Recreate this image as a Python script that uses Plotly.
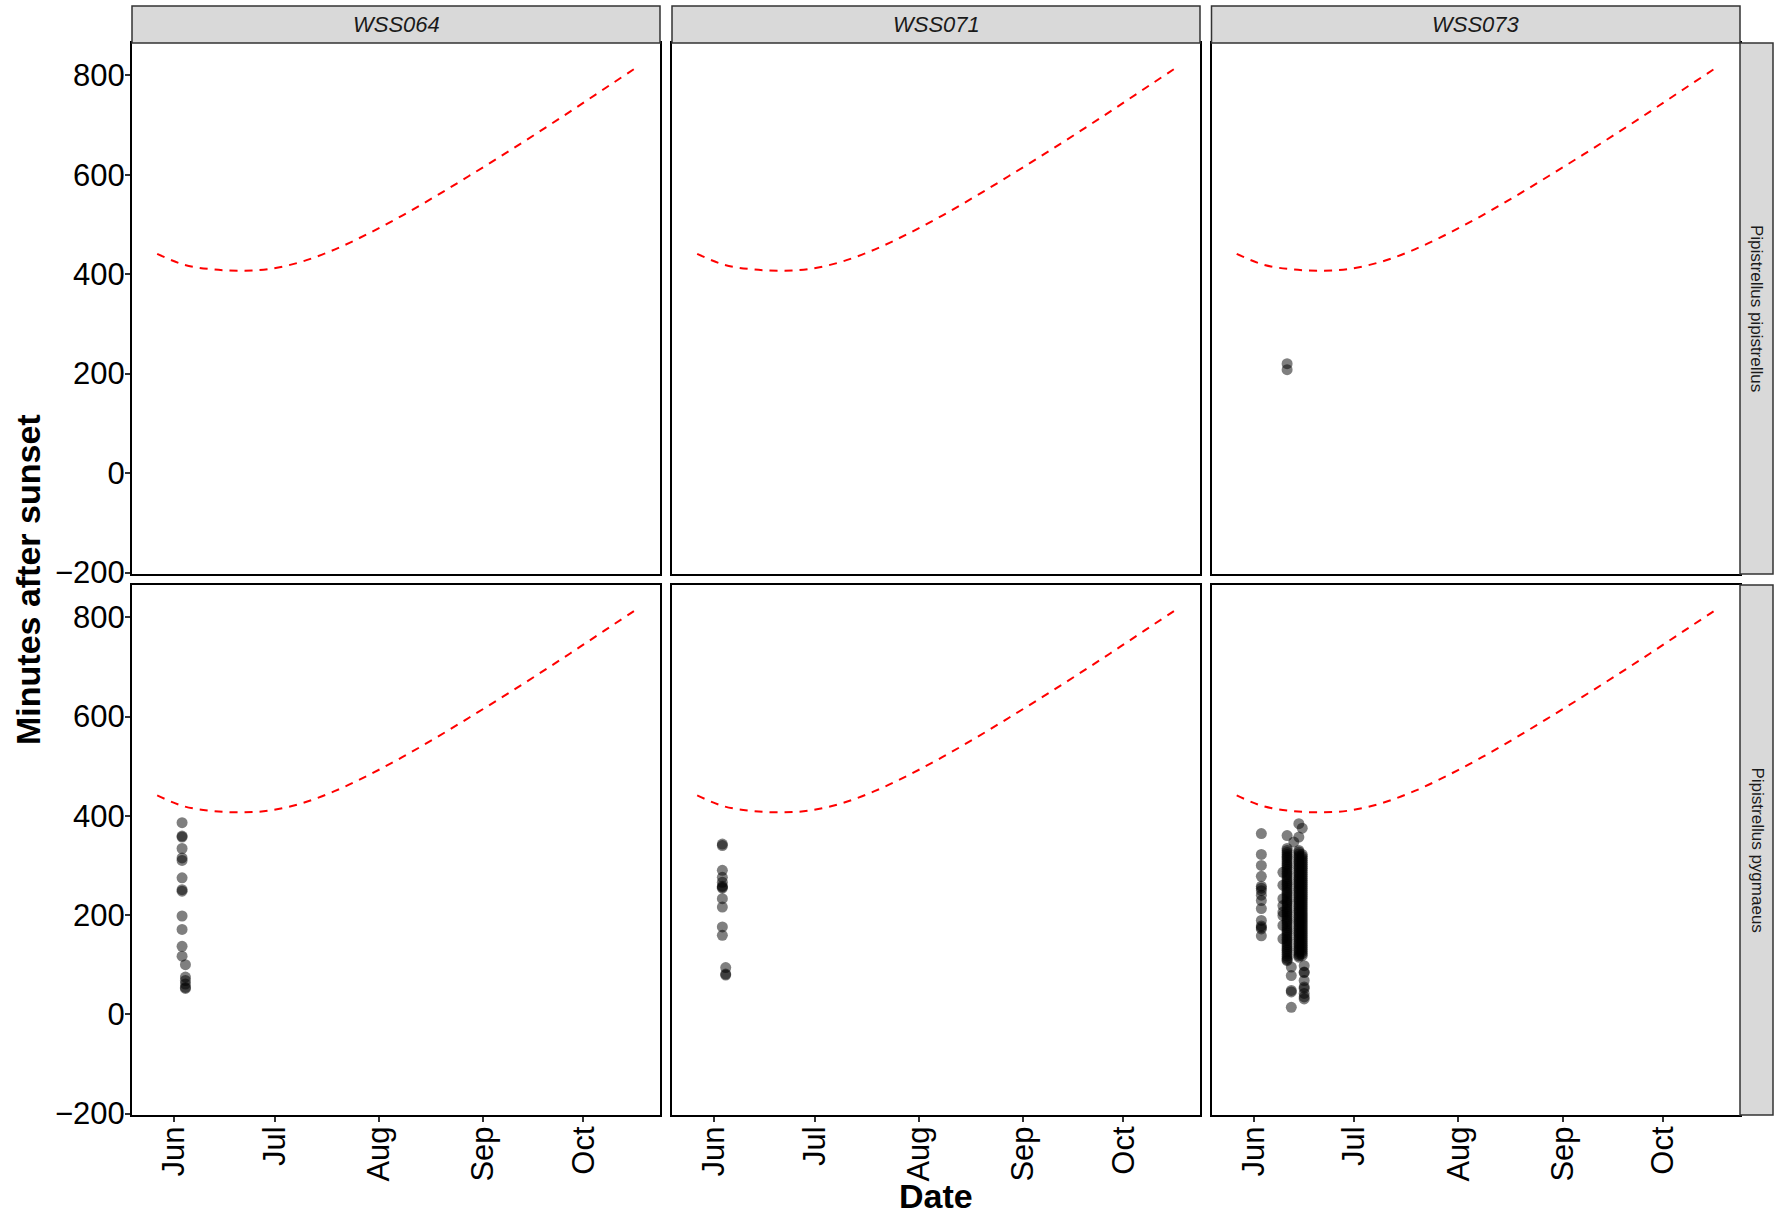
import plotly.graph_objects as go

# the captured page is squeezed vertically (1234 -> 1218), so lay out on a 1234-high page
REF_W, REF_H = 1782, 1218
W, H = 1782, 1234
S = H / REF_H

sites = ["WSS064", "WSS071", "WSS073"]
species = ["Pipistrellus pipistrellus", "Pipistrellus pygmaeus"]

# red dashed reference curve (minutes after sunset until sunrise)
night_dates = ["2021-05-27", "2021-06-04", "2021-06-12", "2021-06-20", "2021-06-29",
               "2021-07-09", "2021-07-19", "2021-07-29", "2021-08-08", "2021-08-18",
               "2021-08-28", "2021-09-07", "2021-09-17", "2021-09-27", "2021-10-07",
               "2021-10-17 12:00"]
night_minutes = [441, 419, 410, 407, 410, 425, 450, 482, 518, 557,
                 598, 640, 683, 727, 772, 819]

# ---- observations (date -> minutes after sunset) ----
# WSS073, Pipistrellus pipistrellus
p073_pip = {"2021-06-11": [220, 208]}

# WSS064, Pipistrellus pygmaeus
p064_pyg = {
    "2021-06-03 10:00": [386, 359, 357, 334, 315, 310, 275, 251, 248, 198, 171, 137, 117],
    "2021-06-04 10:00": [100, 75, 68, 61, 54, 52],
}
# WSS071, Pipistrellus pygmaeus
p071_pyg = {
    "2021-06-03 12:00": [343, 340, 290, 276, 266, 258, 256, 254, 233, 216, 176, 159],
    "2021-06-04 12:00": [94, 81, 79],
}
# WSS073, Pipistrellus pygmaeus
p073_pyg = {
    "2021-06-03 08:00": [364, 322, 300, 278, 258, 254, 249, 240, 229, 213, 189, 178, 175, 172, 158],
    "2021-06-09 18:00": [286, 260, 233, 219, 206, 199, 179, 152],
    "2021-06-11": [360, 334, 330, 326, 322, 318, 315, 311, 307, 303, 300, 296, 292, 288, 284,
                   281, 277, 273, 269, 265, 262, 258, 254, 250, 246, 243, 239, 235, 231, 227,
                   224, 220, 216, 212, 208, 205, 201, 197, 193, 189, 186, 182, 178, 174, 170,
                   167, 163, 159, 155, 151, 148, 144, 140, 136, 132, 129, 125, 121, 117, 113,
                   110, 108],
    "2021-06-12 06:00": [95, 78, 48, 45, 14],
    "2021-06-13": [347],
    "2021-06-14 12:00": [384, 357, 330, 327, 323, 319, 316, 312, 308, 305, 301, 297, 294, 290, 286,
                         283, 279, 275, 272, 268, 264, 261, 257, 253, 250, 246, 242, 239, 235, 231,
                         228, 224, 220, 217, 213, 209, 206, 202, 198, 195, 191, 187, 184, 180, 176,
                         173, 169, 165, 162, 158, 154, 151, 147, 143, 140, 136, 132, 129, 125, 121,
                         118, 115],
    "2021-06-15 12:00": [375, 322, 318, 314, 310, 306, 302, 298, 294, 290, 286, 282, 278, 274, 270,
                         266, 262, 258, 254, 250, 246, 242, 238, 234, 230, 226, 222, 218, 214, 210,
                         206, 202, 198, 194, 190, 186, 182, 178, 174, 170, 166, 162, 158, 154, 150,
                         146, 142, 138, 134, 130, 126, 122, 118],
    "2021-06-16 02:00": [98, 85, 84, 68, 55, 52, 42, 35, 31],
}

panel_data = {
    (0, 0): {}, (0, 1): {}, (0, 2): p073_pip,
    (1, 0): p064_pyg, (1, 1): p071_pyg, (1, 2): p073_pyg,
}

month_ticks = ["2021-06-01", "2021-07-01", "2021-08-01", "2021-09-01", "2021-10-01"]
month_labels = ["Jun", "Jul", "Aug", "Sep", "Oct"]
y_ticks = [-200, 0, 200, 400, 600, 800]

x_range = ["2021-05-19 12:00", "2021-10-23 19:00"]
y_range = [-203, 865]

# pixel layout (reference picture coordinates)
col_px = [(132, 660), (672, 1200), (1211.5, 1740)]
row_px = [(43, 574), (585, 1115)]
strip_top = 6
rstrip = (1740, 1773)


def px(x):
    return x / W


def py(y):
    return 1 - (y * S) / H


FONT = "Liberation Sans, Arial, sans-serif"

fig = go.Figure()
layout = {}

for r in range(2):
    for c in range(3):
        k = r * 3 + c + 1
        xa = "x" if k == 1 else f"x{k}"
        ya = "y" if k == 1 else f"y{k}"
        fig.add_trace(go.Scatter(
            x=night_dates, y=night_minutes, mode="lines",
            line=dict(color="#FF0000", width=2, dash="8px,7px", shape="spline"),
            xaxis=xa, yaxis=ya, hoverinfo="skip", showlegend=False))
        d = panel_data[(r, c)]
        xs, ys = [], []
        for dt, vals in d.items():
            for v in vals:
                xs.append(dt)
                ys.append(v)
        if xs:
            fig.add_trace(go.Scatter(
                x=xs, y=ys, mode="markers",
                marker=dict(color="rgba(0,0,0,0.5)", size=11, line=dict(width=0)),
                xaxis=xa, yaxis=ya, showlegend=False))
        x0, x1 = col_px[c]
        t, b = row_px[r]
        xkey = "xaxis" if k == 1 else f"xaxis{k}"
        ykey = "yaxis" if k == 1 else f"yaxis{k}"
        layout[xkey] = dict(
            domain=[px(x0), px(x1)], anchor=ya, type="date", range=x_range,
            tickmode="array", tickvals=month_ticks, ticktext=month_labels,
            tickangle=-90, showgrid=False, zeroline=False,
            showline=True, mirror=True, linecolor="black", linewidth=2,
            ticks="outside" if r == 1 else "", ticklen=5, tickwidth=1.5,
            tickcolor="#333333", showticklabels=(r == 1), ticklabelstandoff=-8,
            tickfont=dict(family=FONT, size=31, color="black"))
        layout[ykey] = dict(
            domain=[py(b), py(t)], anchor=xa, range=y_range,
            tickmode="array", tickvals=y_ticks, showgrid=False, zeroline=False,
            showline=True, mirror=True, linecolor="black", linewidth=2,
            ticks="outside" if c == 0 else "", ticklen=5, tickwidth=1.5,
            tickcolor="#333333", showticklabels=(c == 0), ticklabelstandoff=-6,
            tickfont=dict(family=FONT, size=31, color="black"))

shapes = []
annotations = []
for c, site in enumerate(sites):
    x0, x1 = col_px[c]
    shapes.append(dict(type="rect", xref="paper", yref="paper",
                       x0=px(x0), x1=px(x1), y0=py(row_px[0][0]), y1=py(strip_top),
                       fillcolor="#D9D9D9", line=dict(color="#333333", width=1.5)))
    annotations.append(dict(text=f"<i>{site}</i>", xref="paper", yref="paper",
                            x=px((x0 + x1) / 2), y=py((strip_top + row_px[0][0]) / 2),
                            showarrow=False, xanchor="center", yanchor="middle",
                            font=dict(family=FONT, size=22, color="#1A1A1A")))
for r, sp in enumerate(species):
    t, b = row_px[r]
    shapes.append(dict(type="rect", xref="paper", yref="paper",
                       x0=px(rstrip[0]), x1=px(rstrip[1]), y0=py(b), y1=py(t),
                       fillcolor="#D9D9D9", line=dict(color="#333333", width=1.5)))
    annotations.append(dict(text=sp, xref="paper", yref="paper",
                            x=px((rstrip[0] + rstrip[1]) / 2), y=py((t + b) / 2),
                            showarrow=False, xanchor="center", yanchor="middle", textangle=90,
                            font=dict(family=FONT, size=17, color="#1A1A1A")))

annotations.append(dict(text="<b>Minutes after sunset</b>", xref="paper", yref="paper",
                        x=px(28), y=py(580), showarrow=False, textangle=-90,
                        xanchor="center", yanchor="middle",
                        font=dict(family=FONT, size=34, color="black")))
annotations.append(dict(text="<b>Date</b>", xref="paper", yref="paper",
                        x=px(936), y=py(1196), showarrow=False,
                        xanchor="center", yanchor="middle",
                        font=dict(family=FONT, size=34, color="black")))

fig.update_layout(
    width=W, height=H, autosize=False,
    margin=dict(l=0, r=0, t=0, b=0),
    paper_bgcolor="white", plot_bgcolor="white",
    showlegend=False, shapes=shapes, annotations=annotations,
    **layout)

fig.write_html("out.html", config={"displayModeBar": False},
               post_script="document.body.style.margin='0px';document.body.style.overflow='hidden';")
